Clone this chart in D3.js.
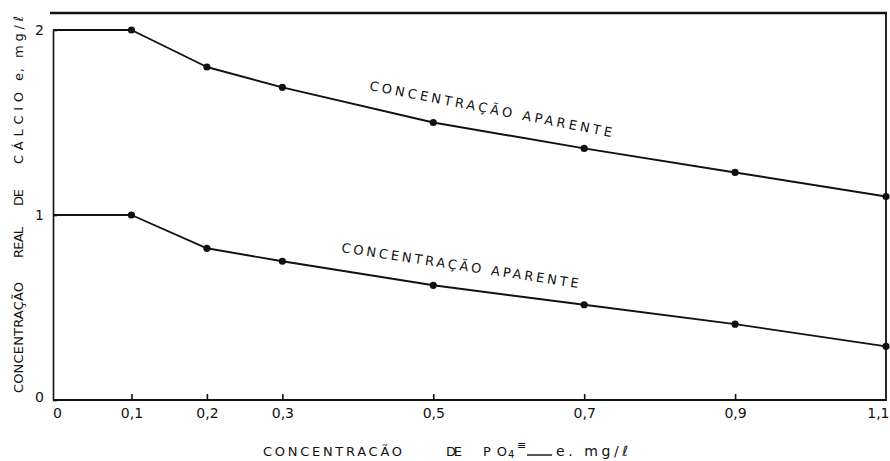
<!DOCTYPE html>
<html>
<head>
<meta charset="utf-8">
<script src="https://cdn.jsdelivr.net/npm/d3@7"></script>
<style>
  html, body { margin: 0; padding: 0; background: #fff; }
  svg { display: block; }
  text { font-family: "DejaVu Sans", sans-serif; fill: #111; }
</style>
</head>
<body>
<svg id="chart" width="890" height="461"></svg>
<script>
// ---- data ----
const xValues      = [0, 0.1, 0.2, 0.3, 0.5, 0.7, 0.9, 1.1];
const upperValues  = [2, 2.0, 1.8, 1.69, 1.5, 1.36, 1.23, 1.1];
const lowerValues  = [1, 1.0, 0.82, 0.75, 0.62, 0.515, 0.41, 0.29];
const xTickValues  = [0, 0.1, 0.2, 0.3, 0.5, 0.7, 0.9, 1.1];
const xTickLabels  = ["0", "0,1", "0,2", "0,3", "0,5", "0,7", "0,9", "1,1"];
const yTickValues  = [0, 1, 2];
const yTickLabels  = ["0", "1", "2"];
const seriesLabel  = "CONCENTRAÇÃO APARENTE";

const svg = d3.select("#chart");
const x = d3.scaleLinear().domain([0, 1.1]).range([56, 886]);
const y = d3.scaleLinear().domain([0, 2]).range([400, 30]);
const ink = "#111";

// frame: top and right border
svg.append("line").attr("x1", 50).attr("x2", 887).attr("y1", 13).attr("y2", 13)
  .attr("stroke", ink).attr("stroke-width", 2.5);
svg.append("line").attr("x1", 886).attr("x2", 886).attr("y1", 13).attr("y2", 400)
  .attr("stroke", ink).attr("stroke-width", 1.8);

// x axis
const xAxis = d3.axisBottom(x)
  .tickValues(xTickValues)
  .tickFormat((d, i) => xTickLabels[i])
  .tickSizeInner(-6).tickSizeOuter(0).tickPadding(8);
const gx = svg.append("g").attr("transform", "translate(0,400)").call(xAxis);
gx.select(".domain").attr("d", "M53,0H887").attr("stroke", ink).attr("stroke-width", 1.8);
gx.selectAll(".tick line").attr("stroke", ink).attr("stroke-width", 1.6)
  .filter(d => d === 0 || d === 1.1).remove();
gx.selectAll(".tick text").attr("font-size", 14).attr("fill", ink);
gx.selectAll(".tick text").filter(d => d === 1.1).attr("text-anchor", "end").attr("dx", 3);
gx.selectAll(".tick text").filter(d => d === 0).attr("dx", 1);

// y axis
const yAxis = d3.axisLeft(y)
  .tickValues(yTickValues)
  .tickFormat((d, i) => yTickLabels[i])
  .tickSizeInner(-4).tickSizeOuter(0).tickPadding(9);
const gy = svg.append("g").attr("transform", "translate(53,0)").call(yAxis);
gy.select(".domain").attr("stroke", ink).attr("stroke-width", 1.6);
gy.selectAll(".tick line").attr("stroke", ink).attr("stroke-width", 1.6);
gy.selectAll(".tick text").attr("font-size", 14).attr("fill", ink);
gy.selectAll(".tick text").filter(d => d === 0).attr("dy", "0.1em");

// series
const line = d3.line().x(d => x(d[0])).y(d => y(d[1]));
[upperValues, lowerValues].forEach(vals => {
  const pts = xValues.map((v, i) => [v, vals[i]]);
  pts[0][0] = -0.0036; // start at the axis line
  svg.append("path").datum(pts).attr("d", line)
    .attr("fill", "none").attr("stroke", ink).attr("stroke-width", 1.9)
    .attr("stroke-linejoin", "round");
  svg.append("g").selectAll("circle").data(pts.slice(1)).join("circle")
    .attr("cx", d => x(d[0])).attr("cy", d => y(d[1])).attr("r", 3.6).attr("fill", ink);
});

// series annotations (slanted)
function slanted(x0, y0, x1, y1) {
  const ang = Math.atan2(y1 - y0, x1 - x0) * 180 / Math.PI;
  const len = Math.hypot(x1 - x0, y1 - y0);
  svg.append("text")
    .attr("transform", `translate(${x0},${y0}) rotate(${ang})`)
    .attr("font-size", 13)
    .attr("textLength", len).attr("lengthAdjust", "spacing")
    .text(seriesLabel);
}
slanted(369, 90, 611, 137);
slanted(341, 252, 578, 288);

// x axis title
const xt = svg.append("g").attr("font-size", 13);
function word(g, str, x0, x1, yb, size) {
  return g.append("text").attr("x", x0).attr("y", yb)
    .attr("font-size", size || 13)
    .attr("textLength", x1 - x0).attr("lengthAdjust", "spacing").text(str);
}
word(xt, "CONCENTRACÃO", 263, 402, 456);
word(xt, "DE", 446, 462, 456);
word(xt, "PO", 483, 507, 456);
xt.append("text").attr("x", 508).attr("y", 458).attr("font-size", 10).text("4");
xt.append("text").attr("x", 517).attr("y", 449).attr("font-size", 11).text("≡");
xt.append("line").attr("x1", 527).attr("x2", 552).attr("y1", 455).attr("y2", 455)
  .attr("stroke", ink).attr("stroke-width", 1.4);
word(xt, "e. mg/ℓ", 556, 628, 456, 14);

// y axis title (rotated)
const yt = svg.append("g").attr("transform", "translate(23,0)");
const yWords = [
  ["CONCENTRAÇÃO", 393, 282],
  ["REAL", 258, 227],
  ["DE", 206, 189],
  ["CÁLCIO", 164, 92],
  ["e,", 81, 68],
  ["mg/ℓ", 58, 16]
];
yWords.forEach(([s, yb, ye]) => {
  yt.append("text")
    .attr("transform", `translate(0,${yb}) rotate(-90)`)
    .attr("font-size", 13)
    .attr("textLength", yb - ye).attr("lengthAdjust", "spacing")
    .text(s);
});
</script>
</body>
</html>
